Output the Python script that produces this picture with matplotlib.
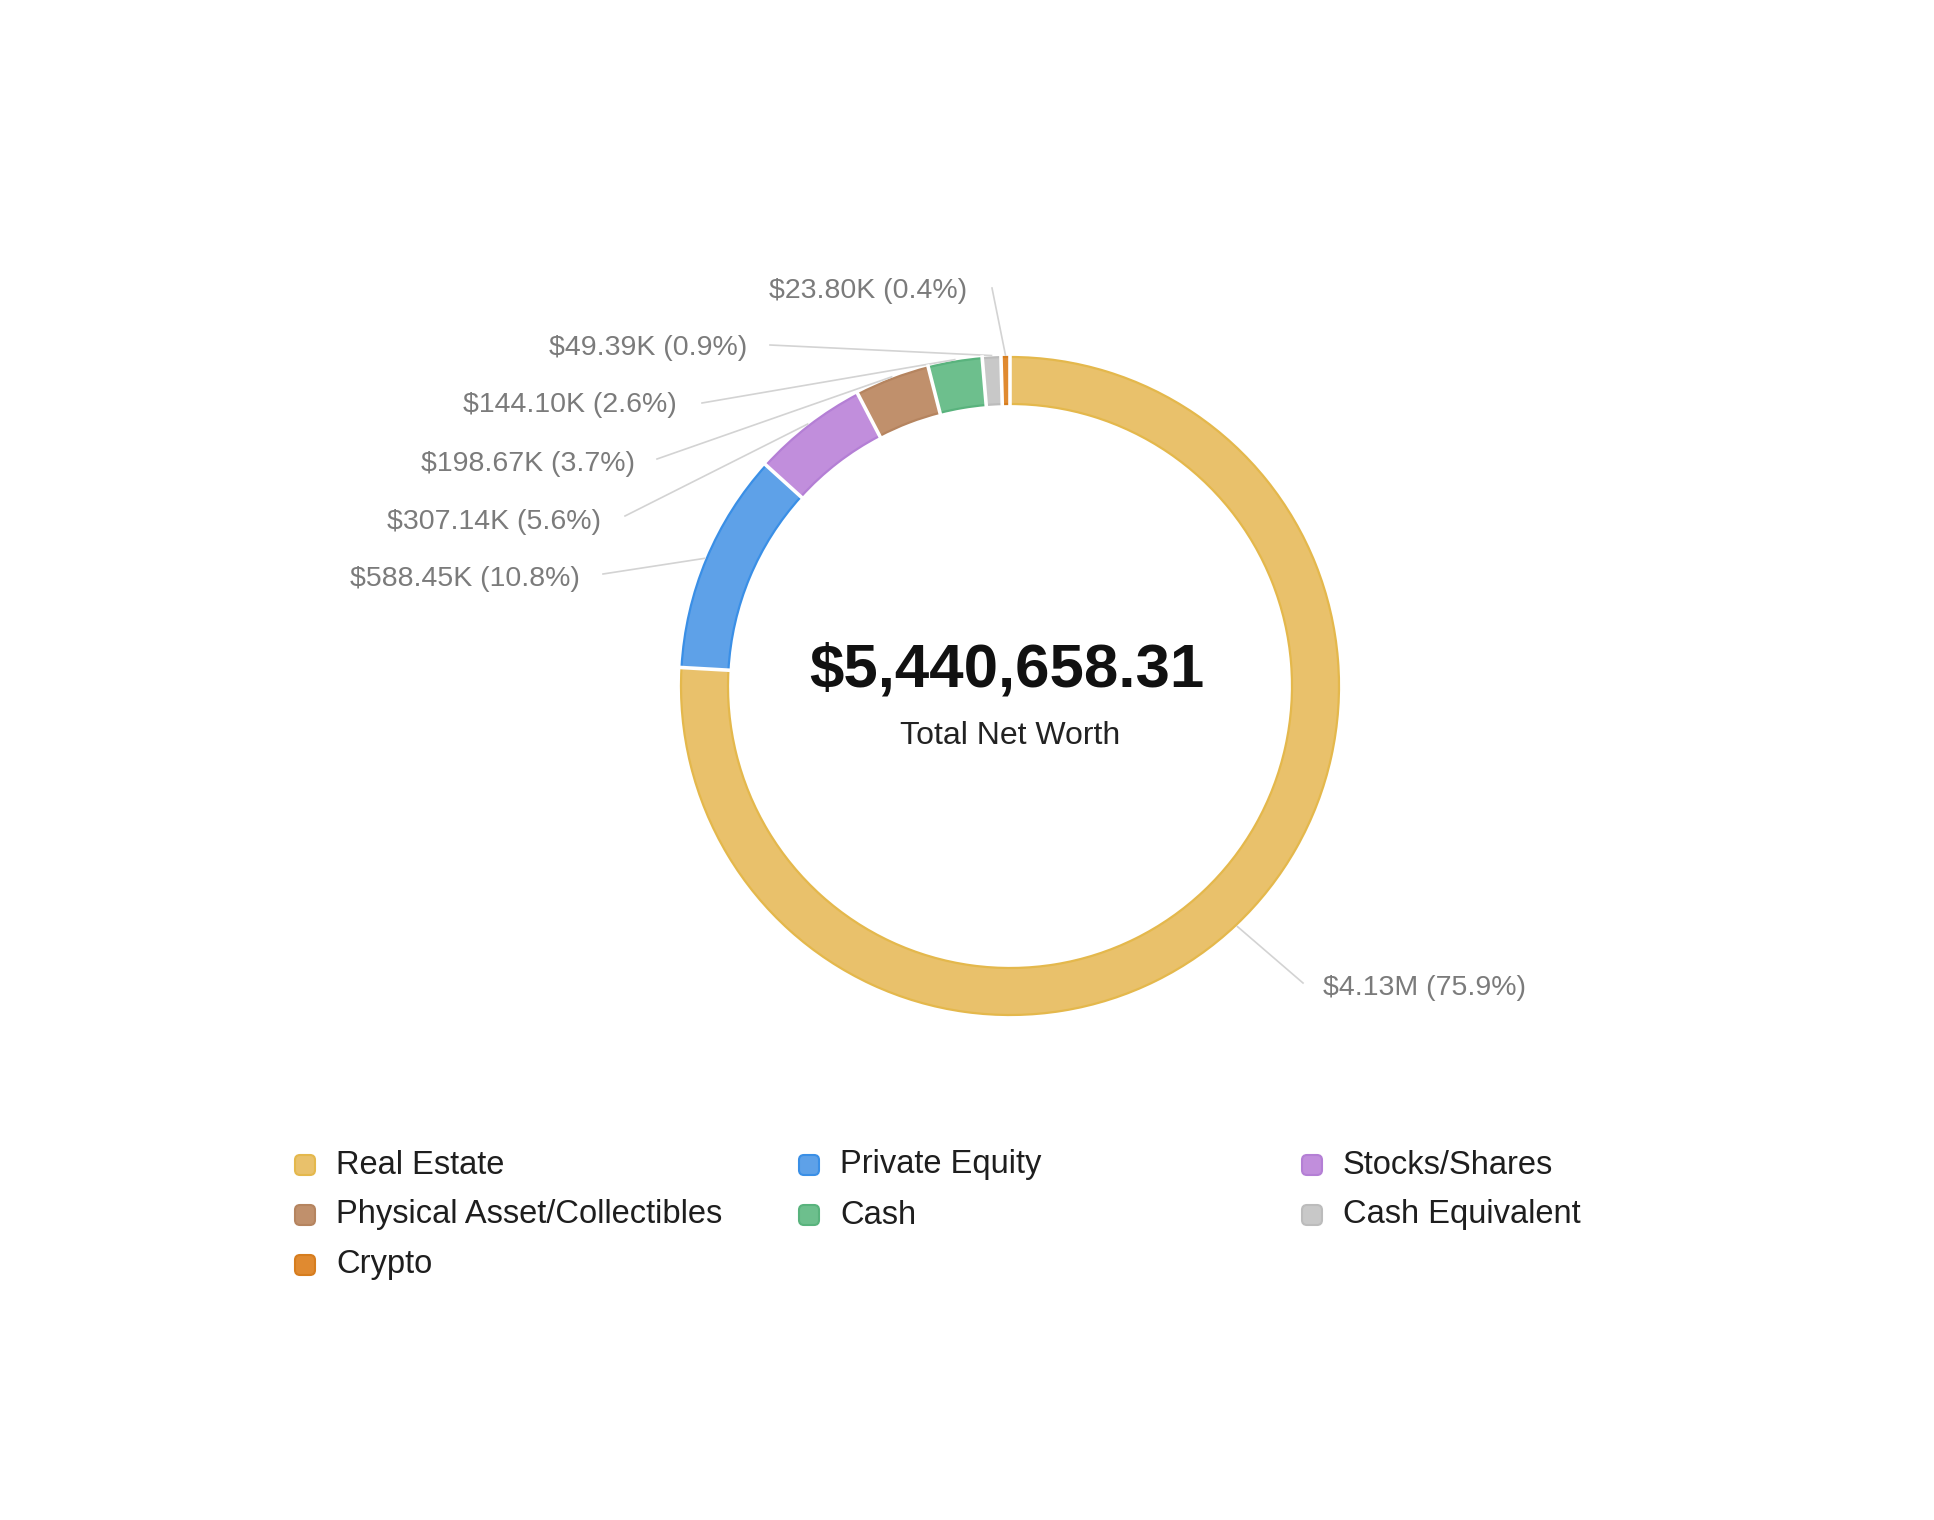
import numpy as np
import matplotlib
matplotlib.use("Agg")
import matplotlib.pyplot as plt
from matplotlib.patches import FancyBboxPatch

# ---------------- data ----------------
categories = ['Real Estate', 'Private Equity', 'Stocks/Shares',
              'Physical Asset/Collectibles', 'Cash', 'Cash Equivalent', 'Crypto']
values = [4129108.31, 588450.00, 307140.00, 198670.00, 144100.00, 49390.00, 23800.00]
center_caption = 'Total Net Worth'

# ---------------- style / layout ----------------
fills = ['#E9C16B', '#5EA1E8', '#C18EDC', '#C0906C', '#6DBF8D', '#C8C8C8', '#E08A30']
edges = ['#E4B84C', '#3A8FE6', '#B47FD5', '#B5845F', '#59B37D', '#BCBCBC', '#D67D1E']

W, H = 1934, 1520
CX, CY = 1010, H - 686
R, RING = 329, 47

# label anchors (image px): (text x, text y, line end x, line end y, align)
label_layout = [
    (1323, 988, 1303, 983, 'left'),
    (580, 579, 603, 574, 'right'),
    (601, 522, 625, 516, 'right'),
    (635, 464, 657, 459, 'right'),
    (677, 405, 702, 403, 'right'),
    (747, 348, 770, 345, 'right'),
    (967, 291, 992, 288, 'right'),
]
legend_cols_x = [305, 809, 1312]
legend_rows_y = [1165, 1215, 1265]

FONT = ['Liberation Sans', 'DejaVu Sans']
plt.rcParams['font.family'] = FONT

fig = plt.figure(figsize=(W / 100, H / 100), dpi=100)
ax = fig.add_axes([0, 0, 1, 1])

total = sum(values)

# ring with coloured borders
wedges, _ = ax.pie(values, startangle=90, counterclock=False, radius=R,
                   center=(CX, CY), colors=fills,
                   wedgeprops=dict(width=RING, linewidth=1.6))
for wdg, ec in zip(wedges, edges):
    wdg.set_edgecolor(ec)

# white separators between slices
cum = np.cumsum([0] + values) / total
for frac in cum[:-1]:
    th = np.deg2rad(90 - 360 * frac)
    r0, r1 = R - RING - 3, R + 3
    ax.plot([CX + r0 * np.cos(th), CX + r1 * np.cos(th)],
            [CY + r0 * np.sin(th), CY + r1 * np.sin(th)],
            color='white', lw=2.6, solid_capstyle='butt', zorder=3)

# labels with leader lines
def fmt(v):
    if v >= 1e6:
        return f"${v / 1e6:.2f}M"
    return f"${v / 1e3:.2f}K"

for i, v in enumerate(values):
    mid = (cum[i] + cum[i + 1]) / 2
    th = np.deg2rad(90 - 360 * mid)
    sx, sy = CX + (R + 2) * np.cos(th), CY + (R + 2) * np.sin(th)
    tx, ty, lx, ly, ha = label_layout[i]
    ax.plot([sx, lx], [sy, H - ly], color='#D3D3D3', lw=1.2, zorder=1)
    ax.text(tx, H - ty, f"{fmt(v)} ({v / total * 100:.1f}%)", ha=ha, va='center',
            fontsize=20.5, color='#7B7B7B')

# centre text
ax.text(1007, H - 671, f"${total:,.2f}", ha='center', va='center',
        fontsize=44.5, fontweight='bold', color='#111111')
ax.text(1010, H - 736, center_caption, ha='center', va='center',
        fontsize=23, color='#222222')

# legend
for i, (cat, fc, ec) in enumerate(zip(categories, fills, edges)):
    x = legend_cols_x[i % 3]
    y = H - legend_rows_y[i // 3]
    ax.add_patch(FancyBboxPatch((x - 8, y - 8), 16, 16,
                                boxstyle='round,pad=2,rounding_size=5',
                                facecolor=fc, edgecolor=ec, lw=1.5))
    ax.text(x + 31, y, cat, ha='left', va='center', fontsize=23.5, color='#1E1E1E')

ax.set_xlim(0, W)
ax.set_ylim(0, H)
ax.set_aspect('equal')
ax.set_axis_off()

fig.savefig('out.png', dpi=100, facecolor='white')
